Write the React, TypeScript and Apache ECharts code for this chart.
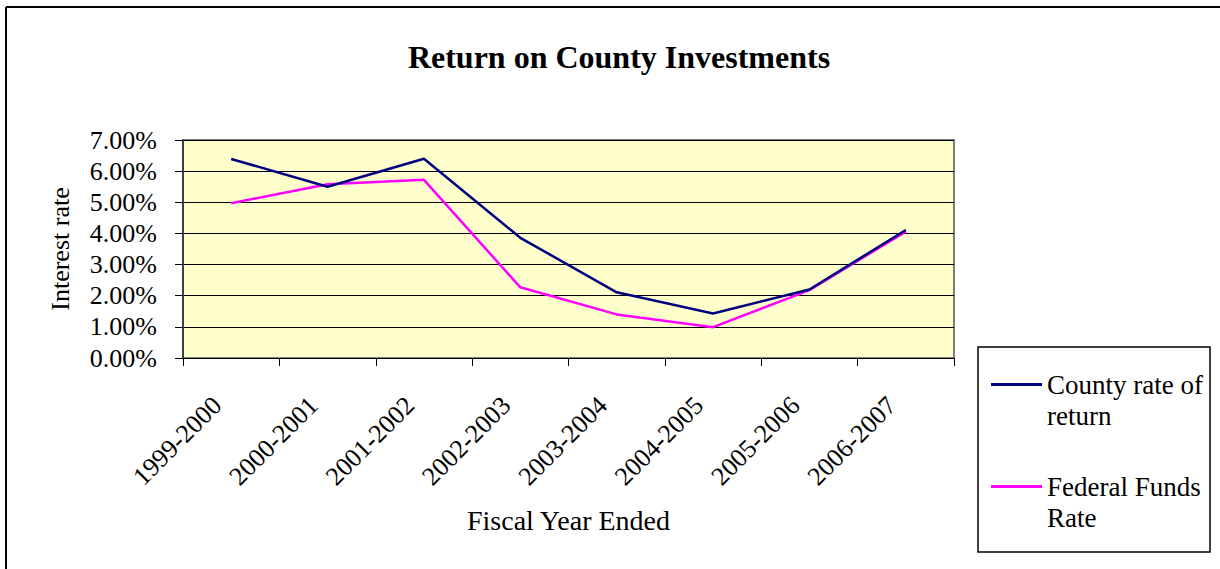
import React, { useEffect, useRef } from "react";
import * as echarts from "echarts";

const categories = [
  "1999-2000",
  "2000-2001",
  "2001-2002",
  "2002-2003",
  "2003-2004",
  "2004-2005",
  "2005-2006",
  "2006-2007",
];
const countyRate = [6.39, 5.5, 6.4, 3.86, 2.11, 1.43, 2.2, 4.11];
const federalRate = [4.97, 5.58, 5.72, 2.27, 1.4, 0.99, 2.18, 4.06];
const seriesNames = ["County rate of return", "Federal Funds Rate"];
const legendLabels: Record<string, string> = {
  "County rate of return": "\nCounty rate of\nreturn",
  "Federal Funds Rate": "\nFederal Funds\nRate",
};

const FONT = "'Liberation Serif', 'Times New Roman', serif";

export default function App() {
  const ref = useRef<HTMLDivElement>(null);
  useEffect(() => {
    if (!ref.current) return;
    const chart = echarts.init(ref.current, undefined, { renderer: "svg" });
    chart.setOption({
      animation: false,
      backgroundColor: "#ffffff",
      textStyle: { fontFamily: FONT, color: "#000" },
      title: {
        text: "Return on County Investments",
        left: 614,
        top: 36,
        textAlign: "center",
        textStyle: {
          fontFamily: FONT,
          fontSize: 32,
          fontWeight: "bold",
          color: "#000",
        },
      },
      grid: {
        left: 183,
        top: 140,
        right: 266,
        bottom: 211,
        show: true,
        backgroundColor: "#FFFFCC",
        borderColor: "#808080",
        borderWidth: 2,
        containLabel: false,
      },
      legend: {
        orient: "vertical",
        left: 991,
        top: 338,
        padding: 0,
        itemWidth: 51,
        itemHeight: 3,
        itemGap: 9,
        selectedMode: false,
        data: seriesNames.map((n) => ({ name: n, icon: "rect" })),
        formatter: (name: string) => legendLabels[name] || name,
        textStyle: {
          fontFamily: FONT,
          fontSize: 27,
          lineHeight: 31,
          color: "#000",
        },
      },
      xAxis: {
        type: "category",
        data: categories,
        boundaryGap: true,
        name: "Fiscal Year Ended",
        nameLocation: "middle",
        nameGap: 148,
        nameTextStyle: { fontFamily: FONT, fontSize: 28, color: "#000" },
        axisLine: { show: true, lineStyle: { color: "#000", width: 1 } },
        axisTick: {
          show: true,
          interval: 0,
          length: 8,
          lineStyle: { color: "#000" },
        },
        axisLabel: {
          interval: 0,
          rotate: 45,
          margin: 29,
          padding: [0, 20, 0, 0],
          fontFamily: FONT,
          fontSize: 26,
          color: "#000",
        },
        splitLine: { show: false },
      },
      yAxis: {
        type: "value",
        min: 0,
        max: 7,
        interval: 1,
        name: "Interest rate",
        nameLocation: "middle",
        nameGap: 110,
        nameTextStyle: { fontFamily: FONT, fontSize: 26, color: "#000" },
        axisLine: { show: true, lineStyle: { color: "#404040", width: 2 } },
        axisTick: { show: true, length: 8, lineStyle: { color: "#000" } },
        axisLabel: {
          margin: 26,
          fontFamily: FONT,
          fontSize: 26,
          color: "#000",
          formatter: (v: number) => v.toFixed(2) + "%",
        },
        splitLine: { show: true, lineStyle: { color: "#000", width: 1 } },
      },
      series: [
        {
          name: seriesNames[0],
          type: "line",
          data: countyRate,
          symbol: "none",
          lineStyle: { color: "#000080", width: 2.5 },
          itemStyle: { color: "#000080" },
          z: 3,
        },
        {
          name: seriesNames[1],
          type: "line",
          data: federalRate,
          symbol: "none",
          lineStyle: { color: "#FF00FF", width: 2.5 },
          itemStyle: { color: "#FF00FF" },
          z: 2,
        },
      ],
      graphic: [
        {
          type: "line",
          shape: { x1: 6, y1: 7, x2: 1230, y2: 7 },
          style: { stroke: "#000", lineWidth: 2 },
          silent: true,
        },
        {
          type: "line",
          shape: { x1: 6, y1: 7, x2: 6, y2: 580 },
          style: { stroke: "#000", lineWidth: 2 },
          silent: true,
        },
        {
          type: "rect",
          shape: { x: 978, y: 347, width: 232, height: 205 },
          style: { fill: "none", stroke: "#000", lineWidth: 1.5 },
          silent: true,
          z: -1,
        },
      ],
    });
    return () => chart.dispose();
  }, []);
  return (
    <div
      ref={ref}
      style={{ position: "fixed", left: 0, top: 0, width: 1220, height: 569 }}
    />
  );
}
